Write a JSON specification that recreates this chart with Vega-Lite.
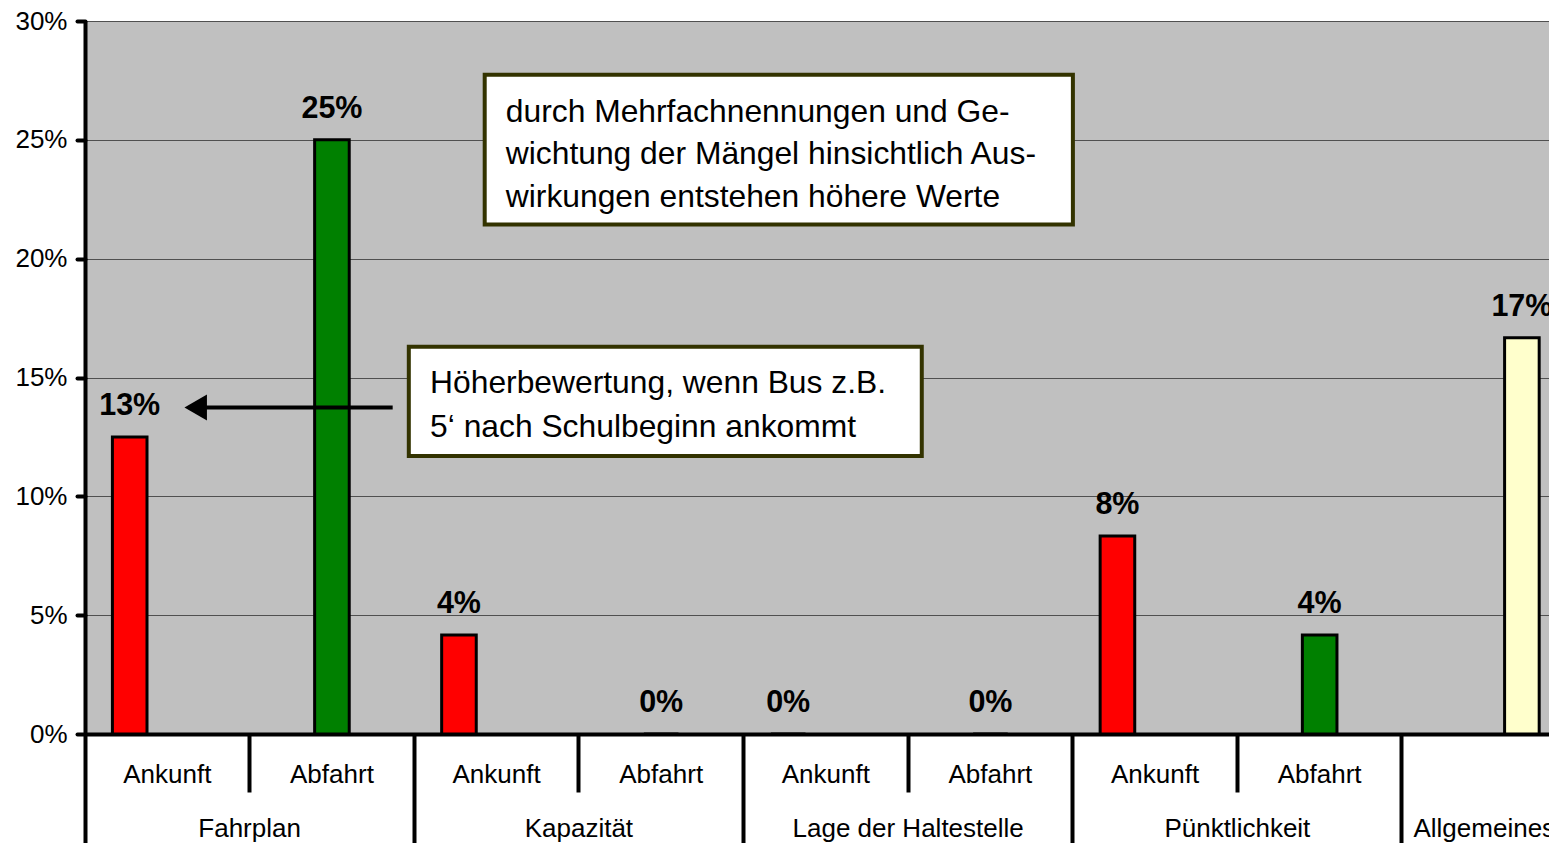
{
  "$schema": "https://vega.github.io/schema/vega-lite/v6.json",
  "width": 1464,
  "height": 713,
  "autosize": {"type": "none"},
  "padding": {"left": 85, "top": 21, "right": 0, "bottom": 109},
  "background": "white",
  "config": {
    "view": {"fill": "#C0C0C0", "stroke": null},
    "font": "Liberation Sans",
    "axis": {"labelFont": "Liberation Sans", "labelColor": "black", "domainColor": "black", "tickColor": "black", "labelLimit": 600}
  },
  "datasets": {
    "maengel": [
      {"Slot": "Fahrplan|Ankunft", "Art": "Ankunft", "Anteil": 0.125},
      {"Slot": "Fahrplan|Abfahrt", "Art": "Abfahrt", "Anteil": 0.25},
      {"Slot": "Kapazität|Ankunft", "Art": "Ankunft", "Anteil": 0.0417},
      {"Slot": "Kapazität|Abfahrt", "Art": "Abfahrt", "Anteil": 0},
      {"Slot": "Lage der Haltestelle|Ankunft", "Art": "Ankunft", "Anteil": 0},
      {"Slot": "Lage der Haltestelle|Abfahrt", "Art": "Abfahrt", "Anteil": 0},
      {"Slot": "Pünktlichkeit|Ankunft", "Art": "Ankunft", "Anteil": 0.0833},
      {"Slot": "Pünktlichkeit|Abfahrt", "Art": "Abfahrt", "Anteil": 0.0417},
      {"Slot": "Allgemeines|", "Art": "Allgemeines", "Anteil": 0.1667}
    ]
  },
  "layer": [
    {
      "data": {"name": "maengel"},
      "layer": [
        {
          "mark": {"type": "bar", "stroke": "black", "strokeWidth": 3},
          "encoding": {
            "x": {
              "field": "Slot", "type": "nominal", "sort": null,
              "scale": {
                "domain": ["Fahrplan|Ankunft", "Fahrplan|Abfahrt", "Kapazität|Ankunft", "Kapazität|Abfahrt", "Lage der Haltestelle|Ankunft", "Lage der Haltestelle|Abfahrt", "Pünktlichkeit|Ankunft", "Pünktlichkeit|Abfahrt", "Allgemeines|"],
                "range": [0, 1481.6], "paddingInner": 0, "paddingOuter": 0
              },
              "axis": {
                "orient": "bottom", "title": null, "labels": false, "bandPosition": 0,
                "domain": true, "domainWidth": 4, "ticks": true, "tickWidth": 4,
                "tickSize": {"condition": {"test": "indexof(datum.value, '|Abfahrt') >= 0", "value": 58}, "value": 110},
                "grid": false
              }
            },
            "xOffset": {
              "field": "Art", "type": "nominal",
              "scale": {"domain": ["Ankunft", "Abfahrt", "Allgemeines"], "paddingInner": 0.08, "paddingOuter": 0.729}
            },
            "y": {
              "field": "Anteil", "type": "quantitative", "title": null,
              "scale": {"domain": [0, 0.3], "nice": false, "zero": true},
              "axis": {
                "orient": "left", "title": null, "format": ".0%",
                "values": [0, 0.05, 0.1, 0.15, 0.2, 0.25, 0.3],
                "grid": true, "gridColor": "#505050", "gridWidth": 1,
                "domainWidth": 4, "tickWidth": 4, "tickSize": 8, "tickCap": "round",
                "labelFontSize": 26, "labelPadding": 10
              }
            },
            "color": {
              "field": "Art", "type": "nominal",
              "scale": {"domain": ["Ankunft", "Abfahrt", "Allgemeines"], "range": ["#FF0000", "#008000", "#FFFFCC"]},
              "legend": null
            }
          }
        },
        {
          "mark": {"type": "text", "fontSize": 30.5, "fontWeight": "bold", "baseline": "alphabetic", "dy": -22, "color": "black", "font": "Liberation Sans"},
          "encoding": {
            "x": {
              "field": "Slot", "type": "nominal", "sort": null,
              "axis": {
                "orient": "bottom", "title": null, "domain": false, "ticks": false, "grid": false,
                "labelAngle": 0, "labelFontSize": 26, "labelPadding": 48, "labelBaseline": "alphabetic",
                "labelExpr": "split(datum.value, '|')[1]"
              }
            },
            "xOffset": {"field": "Art", "type": "nominal"},
            "y": {"field": "Anteil", "type": "quantitative", "title": null},
            "text": {"field": "Anteil", "type": "quantitative", "format": ".0%"}
          }
        },
        {
          "mark": {"type": "text", "opacity": 0},
          "encoding": {
            "x": {
              "field": "Slot", "type": "nominal", "sort": null,
              "axis": {
                "orient": "bottom", "title": null, "domain": false, "ticks": false, "grid": false,
                "labelAngle": 0, "labelFontSize": 26, "labelPadding": 102, "labelBaseline": "alphabetic",
                "labelExpr": "(indexof(datum.value, '|Abfahrt') >= 0 || indexof(datum.value, 'Allgemeines') >= 0) ? split(datum.value, '|')[0] : ''",
                "labelOffset": {"condition": {"test": "indexof(datum.value, '|Abfahrt') >= 0", "value": -82.3}, "value": 0}
              }
            },
            "text": {"value": ""}
          }
        }
      ],
      "resolve": {"axis": {"x": "independent"}}
    },
    {
      "data": {"values": [{}]},
      "layer": [
        {
          "mark": {"type": "rect", "fill": "white", "stroke": "#333300", "strokeWidth": 4},
          "encoding": {
            "x": {"datum": 2.428, "type": "quantitative", "scale": {"domain": [0, 9], "range": [0, 1481.6], "nice": false, "zero": false}, "axis": null},
            "x2": {"datum": 6.001},
            "y": {"datum": 0.2774, "type": "quantitative", "title": null},
            "y2": {"datum": 0.2144}
          }
        },
        {
          "mark": {"type": "text", "align": "left", "baseline": "alphabetic", "fontSize": 31.8, "lineHeight": 42.5, "font": "Liberation Sans", "color": "black"},
          "encoding": {
            "x": {"datum": 2.556, "type": "quantitative", "scale": {"domain": [0, 9], "range": [0, 1481.6], "nice": false, "zero": false}, "axis": null},
            "y": {"datum": 0.2577, "type": "quantitative", "title": null},
            "text": {"value": ["durch Mehrfachnennungen und Ge-", "wichtung der Mängel hinsichtlich Aus-", "wirkungen entstehen höhere Werte"]}
          }
        },
        {
          "mark": {"type": "rect", "fill": "white", "stroke": "#333300", "strokeWidth": 4},
          "encoding": {
            "x": {"datum": 1.967, "type": "quantitative", "scale": {"domain": [0, 9], "range": [0, 1481.6], "nice": false, "zero": false}, "axis": null},
            "x2": {"datum": 5.083},
            "y": {"datum": 0.16296, "type": "quantitative", "title": null},
            "y2": {"datum": 0.11697}
          }
        },
        {
          "mark": {"type": "text", "align": "left", "baseline": "alphabetic", "fontSize": 31.8, "lineHeight": 43.4, "font": "Liberation Sans", "color": "black"},
          "encoding": {
            "x": {"datum": 2.096, "type": "quantitative", "scale": {"domain": [0, 9], "range": [0, 1481.6], "nice": false, "zero": false}, "axis": null},
            "y": {"datum": 0.14335, "type": "quantitative", "title": null},
            "text": {"value": ["Höherbewertung, wenn Bus z.B.", "5‘ nach Schulbeginn ankommt"]}
          }
        },
        {
          "mark": {"type": "rule", "strokeWidth": 4, "color": "black"},
          "encoding": {
            "x": {"datum": 0.72, "type": "quantitative", "scale": {"domain": [0, 9], "range": [0, 1481.6], "nice": false, "zero": false}, "axis": null},
            "x2": {"datum": 1.869},
            "y": {"datum": 0.13738, "type": "quantitative", "title": null}
          }
        },
        {
          "mark": {"type": "point", "shape": "triangle-left", "size": 676, "filled": true, "fill": "black", "stroke": null, "opacity": 1},
          "encoding": {
            "x": {"datum": 0.6725, "type": "quantitative", "scale": {"domain": [0, 9], "range": [0, 1481.6], "nice": false, "zero": false}, "axis": null},
            "y": {"datum": 0.13738, "type": "quantitative", "title": null}
          }
        }
      ]
    }
  ],
  "resolve": {"scale": {"x": "independent"}}
}
